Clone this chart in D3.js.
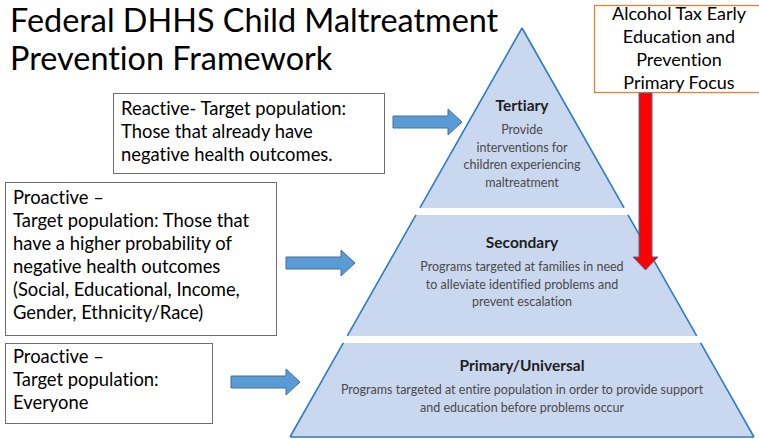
<!DOCTYPE html>
<html>
<head>
<meta charset="utf-8">
<script src="https://cdn.jsdelivr.net/npm/d3@7"></script>
<style>
  body { margin: 0; background: #fff; }
  svg { display: block; }
  text { font-variant-ligatures: none; }
</style>
</head>
<body>
<div id="chart"></div>
<script>
// diagram content
const titleLines = ["Federal DHHS Child Maltreatment", "Prevention Framework"];
const tiers = ["Tertiary", "Secondary", "Primary/Universal"];
const tierText = [
  ["Provide", "interventions for", "children experiencing", "maltreatment"],
  ["Programs targeted at families in need", "to alleviate identified problems and", "prevent escalation"],
  ["Programs targeted at entire population in order to provide support", "and education before problems occur"]
];
// tier edges as share of pyramid height (0 = apex, 1 = base)
const tierTop = [0, 0.457, 0.770];
const tierBottom = [0.44, 0.753, 1];
const boxLines = [
  ["Reactive- Target population:", "Those that already have", "negative health outcomes."],
  ["Proactive \u2013", "Target population: Those that", "have a higher probability of", "negative health outcomes", "(Social, Educational, Income,", "Gender, Ethnicity/Race)"],
  ["Proactive \u2013", "Target population:", "Everyone"]
];
const focusLines = ["Alcohol Tax Early", "Education and", "Prevention", "Primary Focus"];

const width = 759, height = 439;
const font = "Lato, 'Open Sans', sans-serif";
const svg = d3.select("#chart").append("svg")
  .attr("width", width).attr("height", height);

// pyramid geometry
const apexX = 522, apexY = 28, baseY = 437, baseHalf = 232;
const y = d3.scaleLinear().domain([0, 1]).range([apexY, baseY]);
const half = d3.scaleLinear().domain([0, 1]).range([0, baseHalf]);

const tierG = svg.append("g");
tiers.forEach((t, i) => {
  const t0 = tierTop[i], t1 = tierBottom[i];
  const p = d3.path();
  p.moveTo(apexX - half(t0), y(t0));
  p.lineTo(apexX + half(t0), y(t0));
  p.lineTo(apexX + half(t1), y(t1));
  p.lineTo(apexX - half(t1), y(t1));
  p.closePath();
  tierG.append("path").attr("d", p.toString()).attr("fill", "#c9d8ee");
  const e = d3.path();
  e.moveTo(apexX - half(t0), y(t0)); e.lineTo(apexX - half(t1), y(t1));
  e.moveTo(apexX + half(t0), y(t0)); e.lineTo(apexX + half(t1), y(t1));
  if (i === tiers.length - 1) { e.moveTo(apexX - half(t1), y(t1)); e.lineTo(apexX + half(t1), y(t1)); }
  tierG.append("path").attr("d", e.toString()).attr("fill", "none")
    .attr("stroke", "#2f7cc0").attr("stroke-width", 1.6);
});

const tierTitleY = [111, 248, 371];
tiers.forEach((t, i) => {
  tierG.append("text").attr("x", apexX).attr("y", tierTitleY[i])
    .attr("text-anchor", "middle").attr("font-family", font)
    .attr("font-weight", "bold").attr("font-size", 15.5).attr("fill", "#1e1e1e").text(t);
  tierText[i].forEach((l, j) => {
    tierG.append("text").attr("x", apexX).attr("y", tierTitleY[i] + 23 + j * 17.5)
      .attr("text-anchor", "middle").attr("font-family", font)
      .attr("font-size", 12.5).attr("fill", "#4a4a4a").text(l);
  });
});

// title
svg.append("g").selectAll("text").data(titleLines).join("text")
  .attr("x", 10).attr("y", (d, i) => 32 + i * 38)
  .attr("font-family", font).attr("font-size", 32.4)
  .attr("fill", "#000").text(d => d);

// left boxes
const boxes = [
  {x: 113, y: 93, w: 271, h: 80, tx: 121, ty: 115},
  {x: 5, y: 182, w: 271, h: 153, tx: 13, ty: 204},
  {x: 5, y: 343, w: 207, h: 80, tx: 13, ty: 363}
];
boxes.forEach((b, i) => {
  const g = svg.append("g");
  g.append("rect").attr("x", b.x + 0.5).attr("y", b.y + 0.5).attr("width", b.w).attr("height", b.h)
    .attr("fill", "#fff").attr("stroke", "#6e6e6e").attr("stroke-width", 1);
  g.selectAll("text").data(boxLines[i]).join("text")
    .attr("x", b.tx).attr("y", (d, j) => b.ty + j * 23)
    .attr("font-family", font).attr("font-size", 18.4)
    .attr("fill", "#000").text(d => d);
});

// blue block arrows pointing at each tier
const arrows = [
  {x0: 393, x1: 462, cy: 122},
  {x0: 286, x1: 355, cy: 263},
  {x0: 231, x1: 300, cy: 382}
];
arrows.forEach(a => {
  const hl = 14, bh = 6, hh = 13;
  const p = d3.path();
  p.moveTo(a.x0, a.cy - bh);
  p.lineTo(a.x1 - hl, a.cy - bh);
  p.lineTo(a.x1 - hl, a.cy - hh);
  p.lineTo(a.x1, a.cy);
  p.lineTo(a.x1 - hl, a.cy + hh);
  p.lineTo(a.x1 - hl, a.cy + bh);
  p.lineTo(a.x0, a.cy + bh);
  p.closePath();
  svg.append("path").attr("d", p.toString()).attr("fill", "#5b9bd5")
    .attr("stroke", "#41719c").attr("stroke-width", 1);
});

// orange focus box
const fg = svg.append("g");
fg.append("rect").attr("x", 594.5).attr("y", 5.5).attr("width", 170).attr("height", 87)
  .attr("fill", "#fff").attr("stroke", "#ed7d31").attr("stroke-width", 1.3);
fg.selectAll("text").data(focusLines).join("text")
  .attr("x", 679).attr("y", (d, i) => 20 + i * 23)
  .attr("text-anchor", "middle").attr("font-family", font)
  .attr("font-size", 18).attr("fill", "#000").text(d => d);

// red arrow down into the secondary tier
const r = d3.path();
r.moveTo(639, 93); r.lineTo(652, 93); r.lineTo(652, 257); r.lineTo(658, 257);
r.lineTo(645.5, 270); r.lineTo(633, 257); r.lineTo(639, 257); r.closePath();
svg.append("path").attr("d", r.toString()).attr("fill", "#ff0000")
  .attr("stroke", "#41719c").attr("stroke-width", 1);
</script>
</body>
</html>
